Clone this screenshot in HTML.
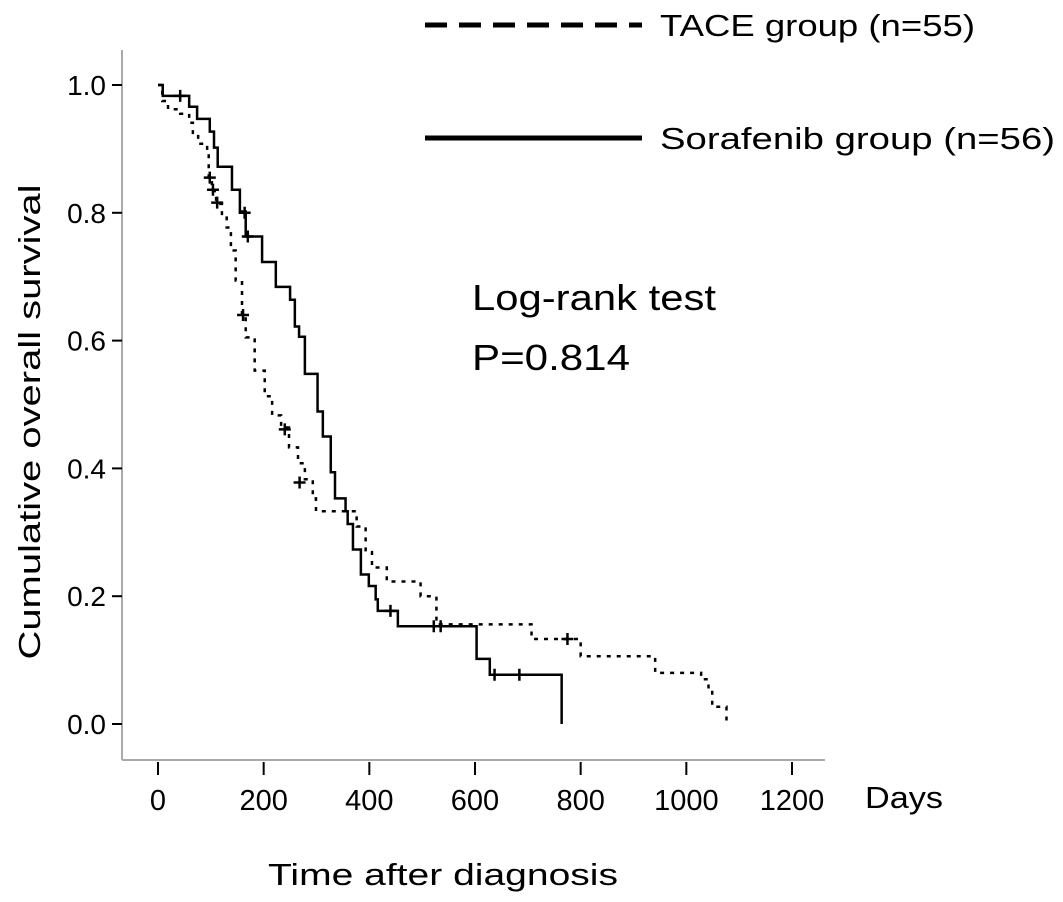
<!DOCTYPE html>
<html><head><meta charset="utf-8"><style>
html,body{margin:0;padding:0;background:#fff;}
svg{display:block;font-family:"Liberation Sans",sans-serif;}
</style></head><body>
<svg id="chart" width="1063" height="902" viewBox="0 0 1063 902" xmlns="http://www.w3.org/2000/svg">
<g id="axes"></g>
<g id="series"></g>
<g>
<line x1="425" y1="25" x2="642" y2="25" stroke="#000" stroke-width="5" stroke-dasharray="22 12"/>
<text x="660" y="36" font-size="31" textLength="315" lengthAdjust="spacingAndGlyphs">TACE group (n=55)</text>
<line x1="425" y1="138" x2="642" y2="138" stroke="#000" stroke-width="5"/>
<text x="660" y="149" font-size="31" textLength="395" lengthAdjust="spacingAndGlyphs">Sorafenib group (n=56)</text>
</g>
<text x="472" y="310" font-size="36" textLength="244" lengthAdjust="spacingAndGlyphs">Log-rank test</text>
<text x="472" y="370" font-size="36" textLength="158" lengthAdjust="spacingAndGlyphs">P=0.814</text>
<text transform="translate(40,422) rotate(-90)" text-anchor="middle" font-size="31" textLength="475" lengthAdjust="spacingAndGlyphs">Cumulative overall survival</text>
<text x="268" y="885" font-size="31" textLength="350" lengthAdjust="spacingAndGlyphs">Time after diagnosis</text>
<text x="865" y="808" font-size="31" textLength="78" lengthAdjust="spacingAndGlyphs">Days</text>
</svg>
<script>
const xTicks = [0,200,400,600,800,1000,1200];
const yTicks = [0.0,0.2,0.4,0.6,0.8,1.0];
const soraTimes = [9,59,74,98,106,113,140,155,166,197,223,250,259,267,278,302,312,327,335,355,359,369,384,399,412,416,454,603,628,764];
const soraSurv  = [0.983,0.966,0.947,0.927,0.902,0.872,0.836,0.802,0.763,0.723,0.684,0.664,0.622,0.606,0.548,0.489,0.45,0.394,0.353,0.333,0.313,0.273,0.234,0.216,0.195,0.177,0.153,0.102,0.077,0];
const soraCensT = [42,164,170,440,522,535,637,684];
const soraCensS = [0.983,0.80,0.763,0.177,0.153,0.153,0.077,0.077];
const taceTimes = [8,19,42,59,66,76,93,96,102,110,121,130,138,147,159,166,183,202,216,233,248,265,278,293,299,376,393,405,433,497,527,707,800,941,1028,1042,1049,1076];
const taceSurv  = [0.975,0.962,0.955,0.941,0.925,0.908,0.897,0.853,0.834,0.814,0.795,0.777,0.741,0.694,0.639,0.605,0.553,0.513,0.483,0.464,0.433,0.408,0.383,0.353,0.333,0.309,0.269,0.245,0.223,0.2,0.156,0.133,0.106,0.08,0.07,0.053,0.027,0.003];
const taceCensT = [98,104,112,161,240,268,775];
const taceCensS = [0.855,0.836,0.816,0.64,0.461,0.378,0.133];
const NS="http://www.w3.org/2000/svg";
const xs = d => 158 + d*(792-158)/1200;
const ys = s => 724 - s*(724-85);
function mk(tag, attrs, parent){const e=document.createElementNS(NS,tag);for(const k in attrs)e.setAttribute(k,attrs[k]);parent.appendChild(e);return e;}
const axes=document.getElementById('axes');
let yl=mk('line',{x1:122,y1:50,x2:122,y2:760,stroke:'#aaa','stroke-width':2},axes);


let xl=mk('line',{x1:122,y1:760,x2:825,y2:760,stroke:'#aaa','stroke-width':2},axes);


xTicks.forEach(t=>{
  const l=mk('line',{x1:xs(t),y1:762,x2:xs(t),y2:775,stroke:'#000','stroke-width':2},axes);
  
  
  const tx=mk('text',{x:xs(t),y:810,'text-anchor':'middle','font-size':29},axes);
  tx.textContent=String(t);
  
  
});
yTicks.forEach(t=>{
  const l=mk('line',{x1:112,y1:ys(t),x2:122,y2:ys(t),stroke:'#000','stroke-width':2},axes);
  
  
  const tx=mk('text',{x:106,y:ys(t)+10,'text-anchor':'end','font-size':28},axes);
  tx.textContent=t.toFixed(1);
  
  
});
const series=document.getElementById('series');
function stepPath(times,surv){
  let d='M'+xs(0)+','+ys(1);let prev=1;
  for(let i=0;i<times.length;i++){d+=' H'+xs(times[i])+' V'+ys(surv[i]);prev=surv[i];}
  return d;
}
const pT=mk('path',{d:stepPath(taceTimes,taceSurv),fill:'none',stroke:'#000','stroke-width':2.5,'stroke-dasharray':'4 6'},series);


const pS=mk('path',{d:stepPath(soraTimes,soraSurv),fill:'none',stroke:'#000','stroke-width':2.5},series);


function cens(T,S,name){
  T.forEach((t,i)=>{
    const x=xs(t),y=ys(S[i]);
    const g=mk('path',{d:`M${x-6},${y} H${x+6} M${x},${y-6} V${y+6}`,stroke:'#000','stroke-width':2.5,fill:'none'},series);
    
    
  });
}
cens(taceCensT,taceCensS,'tace-censor-mark');
cens(soraCensT,soraCensS,'sorafenib-censor-mark');
</script>
</body></html>
